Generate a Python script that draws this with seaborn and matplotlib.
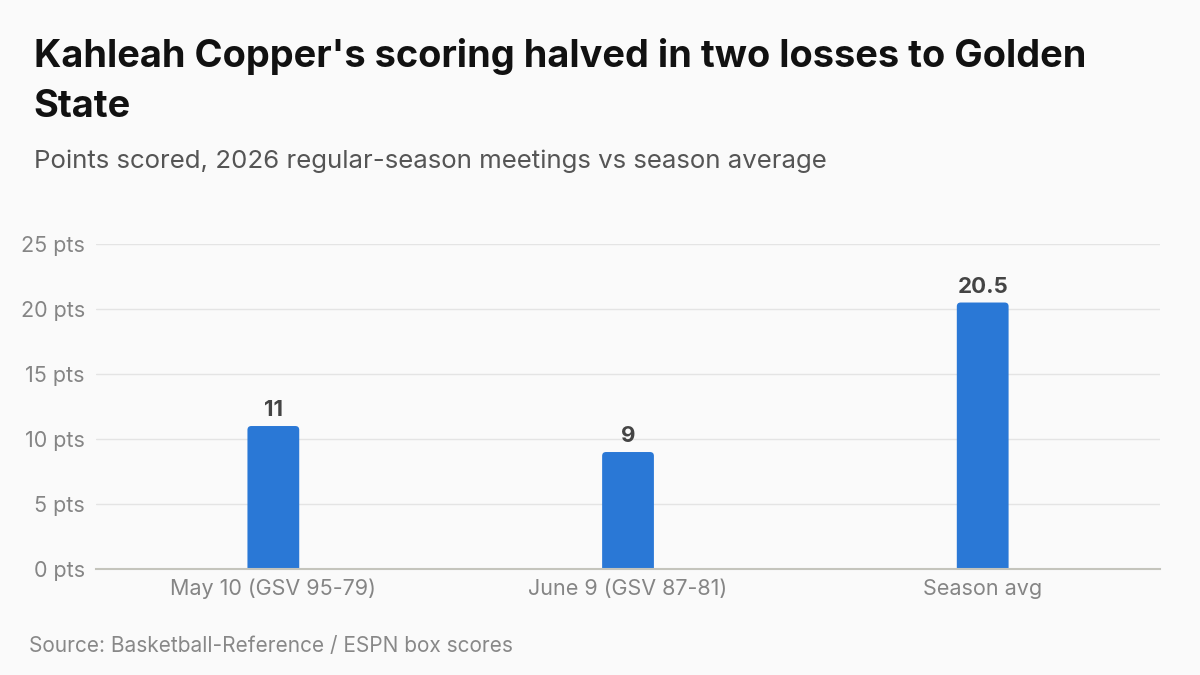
import pandas as pd
import matplotlib.pyplot as plt
import seaborn as sns
from matplotlib.patches import FancyBboxPatch

# Data
games = ['May 10 (GSV 95-79)', 'June 9 (GSV 87-81)', 'Season avg']
points = [11, 9, 20.5]
point_labels = ['11', '9', '20.5']
y_ticks = [0, 5, 10, 15, 20, 25]

df = pd.DataFrame({'game': games, 'points': points})

sns.set_theme(style='white')
plt.rcParams['font.family'] = ['Inter', 'DejaVu Sans']

bg = '#fafafa'
bar_color = '#2a78d6'

fig = plt.figure(figsize=(12, 6.75), dpi=100, facecolor=bg)
ax = fig.add_axes([0.08, 0.157, 0.8867, 0.4815], facecolor=bg)

sns.barplot(data=df, x='game', y='points', color=bar_color, width=0.146,
            saturation=1, ax=ax, zorder=3)

ax.set_xlim(-0.5, 2.5)
ax.set_ylim(0, 25)

# swap the plain bars for ones with rounded tops (bottom tucked below the axis)
for p in list(ax.patches):
    x, y = p.get_x(), p.get_y()
    w, h = p.get_width(), p.get_height()
    p.set_visible(False)
    rb = FancyBboxPatch((x, y - 1), w, h + 1, boxstyle='round,pad=0,rounding_size=0.011',
                        mutation_aspect=27.3, facecolor=bar_color,
                        edgecolor='none', zorder=3)
    ax.add_patch(rb)

for i, (v, lab) in enumerate(zip(points, point_labels)):
    ax.text(i, v + 0.45, lab, ha='center', va='bottom', fontsize=16,
            fontweight='bold', color='#444444')

ax.set_yticks(y_ticks)
ax.set_yticklabels([f'{t} pts' for t in y_ticks])
ax.yaxis.grid(True, color='#e4e4e4', linewidth=1, zorder=0)
ax.tick_params(axis='y', length=0, pad=8, labelsize=15.5, labelcolor='#858585')
ax.tick_params(axis='x', length=0, pad=7, labelsize=15.5, labelcolor='#858585')
ax.set_xlabel('')
ax.set_ylabel('')
for s in ['top', 'right', 'left']:
    ax.spines[s].set_visible(False)
ax.spines['bottom'].set_color('#c4c4bc')
ax.spines['bottom'].set_linewidth(1.5)
ax.spines['bottom'].set_zorder(4)

fig.text(0.028, (675 - 67) / 675, "Kahleah Copper's scoring halved in two losses to Golden",
         fontsize=27.3, fontweight='bold', color='#111111', va='baseline')
fig.text(0.028, (675 - 117) / 675, 'State',
         fontsize=27.3, fontweight='bold', color='#111111', va='baseline')
fig.text(0.028, (675 - 168) / 675, 'Points scored, 2026 regular-season meetings vs season average',
         fontsize=18.6, color='#555555', va='baseline')
fig.text(0.024, (675 - 652) / 675, 'Source: Basketball-Reference / ESPN box scores',
         fontsize=15, color='#888888', va='baseline')

plt.savefig('out.png', dpi=100, facecolor=bg)
plt.close()
